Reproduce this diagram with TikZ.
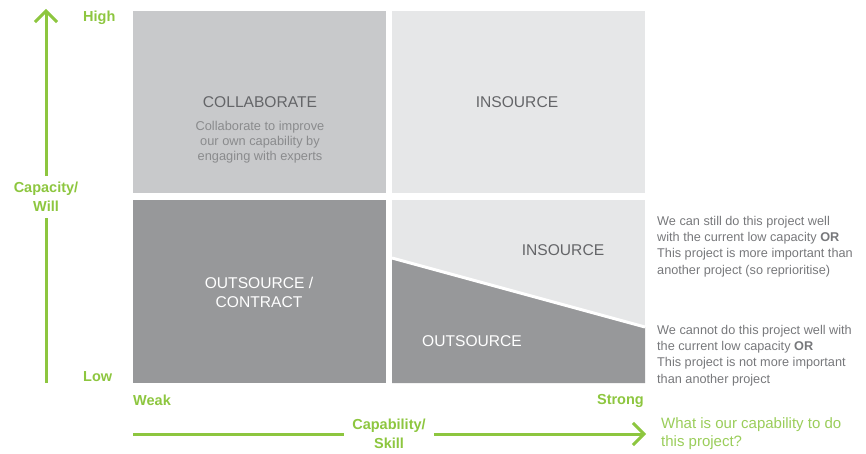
\documentclass[tikz,border=0pt]{standalone}
\usepackage{fontspec}
\setmainfont{Liberation Sans}
\usetikzlibrary{arrows.meta}
\definecolor{lgreen}{HTML}{8DC63F}
\definecolor{lgreen2}{HTML}{9ACD5A}
\definecolor{qmid}{HTML}{C8C9CB}
\definecolor{qlight}{HTML}{E6E7E8}
\definecolor{qdark}{HTML}{97989A}
\definecolor{thead}{HTML}{646568}
\definecolor{tdesc}{HTML}{8A8B8D}
\definecolor{tside}{HTML}{77787B}
\tikzset{
  axis/.style={draw=lgreen, line width=3pt},
  axishead/.style={axis, -{Straight Barb[length=11pt,width=22pt,line width=3pt]}},
  axlabel/.style={text=lgreen, font=\bfseries\fontsize{14.5}{19}\selectfont, inner sep=0pt},
  head/.style={text=thead, font=\fontsize{15.6}{18}\selectfont, inner sep=0pt},
  whitehead/.style={text=white, font=\fontsize{15.6}{19}\selectfont, inner sep=0pt, align=center},
  desc/.style={text=tdesc, font=\fontsize{12.8}{15}\selectfont, inner sep=0pt, align=center},
  side/.style={text=tside, font=\fontsize{12.7}{16.2}\selectfont, inner sep=0pt, align=left, anchor=west},
}
\begin{document}
\begin{tikzpicture}[x=1pt,y=-1pt]
\useasboundingbox (0,0) rectangle (866,454);
% quadrants
\fill[qmid] (133,11) rectangle (386,193);
\fill[qlight] (392,11) rectangle (645,193);
\fill[qdark] (133,200) rectangle (386,383);
\fill[qlight] (392,200) rectangle (645,383);
\fill[qdark] (392,258) -- (645,327) -- (645,383) -- (392,383) -- cycle;
\draw[white, line width=3pt] (392,258) -- (645,327);
% quadrant texts
\node[head] (collab) at (260,102) {COLLABORATE};
\node[desc] (collabd) at (260,142) {Collaborate to improve\\our own capability by\\engaging with experts};
\node[head] (ins1) at (517,102) {INSOURCE};
\node[whitehead] (outc) at (259,292) {OUTSOURCE /\\CONTRACT};
\node[head] (ins2) at (563,250) {INSOURCE};
\node[whitehead] (outs) at (472,341) {OUTSOURCE};
% side texts
\node[side] (s1) at (657,246.5) {We can still do this project well\\with the current low capacity \textbf{OR}\\This project is more important than\\another project (so reprioritise)};
\node[side] (s2) at (657,355.5) {We cannot do this project well with\\the current low capacity \textbf{OR}\\This project is not more important\\than another project};
% vertical axis
\coordinate (vbot) at (46,383);
\coordinate (vtop) at (46,9);
\node[axlabel, align=center] (cap) at (46,197) {Capacity/\\Will};
\draw[axis] (vbot) -- ([yshift=-6pt]cap.south);
\draw[axishead] ([yshift=6pt]cap.north) -- (vtop);
\node[axlabel, anchor=west] (high) at (83,18) {High};
\node[axlabel, anchor=west] (low) at (83,377) {Low};
% horizontal axis
\coordinate (hleft) at (133,434);
\coordinate (hright) at (646,434);
\node[axlabel, align=center] (skill) at (389,434) {Capability/\\Skill};
\draw[axis] (hleft) -- ([xshift=-8pt]skill.west);
\draw[axishead] ([xshift=8pt]skill.east) -- (hright);
\node[axlabel, anchor=west] (weak) at (133,400) {Weak};
\node[axlabel, anchor=east] (strong) at (644,401) {Strong};
\node[text=lgreen2, font=\fontsize{15}{18}\selectfont, inner sep=0pt, align=left, anchor=west] (q) at (661,434) {What is our capability to do\\this project?};
\end{tikzpicture}
\end{document}
